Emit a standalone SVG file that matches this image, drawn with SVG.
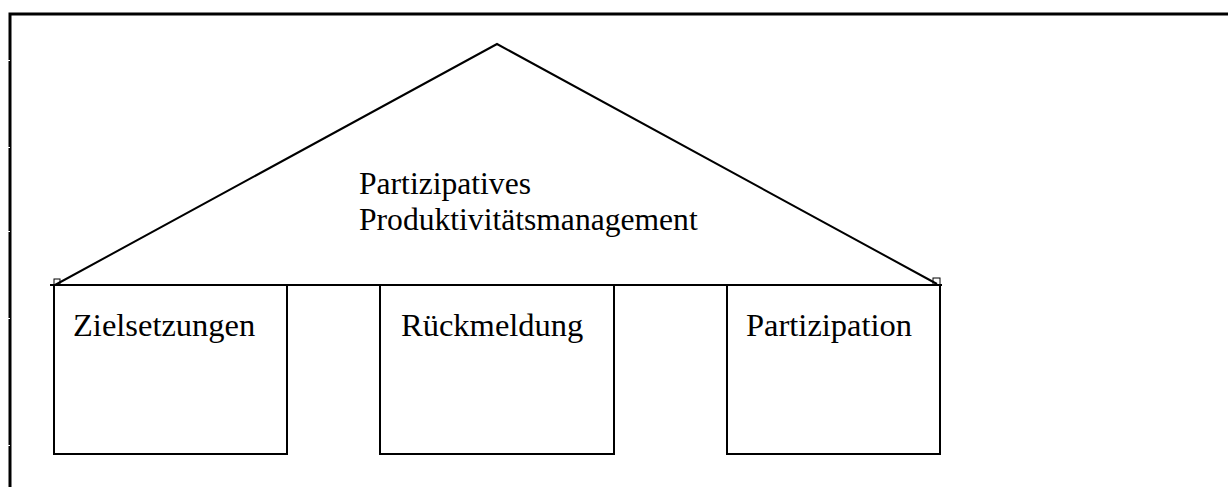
<svg xmlns="http://www.w3.org/2000/svg" width="1228" height="487" viewBox="0 0 1228 487">
<style>
.ln{fill:none;stroke:#000;stroke-width:2}
.t{font-family:"Liberation Serif","Times New Roman",serif;font-size:32.5px;fill:#000}
.r{font-size:31.6px}
</style>
<rect width="1228" height="487" fill="#fff"/>
<g id="frame">
<path d="M10 487 V14 H1228" fill="none" stroke="#000" stroke-width="3"/>
<g stroke="#fff" stroke-width="1">
<line x1="7" y1="60.5" x2="10" y2="60.5"/>
<line x1="7" y1="147.5" x2="10" y2="147.5"/>
<line x1="7" y1="231.5" x2="10" y2="231.5"/>
<line x1="7" y1="318.5" x2="10" y2="318.5"/>
<line x1="7" y1="445.5" x2="10" y2="445.5"/>
</g>
</g>
<g id="roof">
<line class="ln" x1="50" y1="285" x2="942" y2="285"/>
<polyline class="ln" points="55,285 497,44 937,284"/>
<rect x="54" y="279" width="6" height="6" fill="none" stroke="#000" stroke-width="1"/>
<rect x="933" y="278" width="7" height="7" fill="none" stroke="#000" stroke-width="1"/>
<text class="t r" x="359" y="194">Partizipatives</text>
<text class="t r" x="359" y="230">Produktivitätsmanagement</text>
</g>
<g id="zielsetzungen">
<path class="ln" d="M54 285 V454 H287 V285"/>
<text class="t" x="73" y="336">Zielsetzungen</text>
</g>
<g id="rueckmeldung">
<path class="ln" d="M380 285 V454 H614 V285"/>
<text class="t" x="401" y="336">Rückmeldung</text>
</g>
<g id="partizipation">
<path class="ln" d="M727 285 V454 H940 V285"/>
<text class="t" x="746" y="336">Partizipation</text>
</g>
</svg>
